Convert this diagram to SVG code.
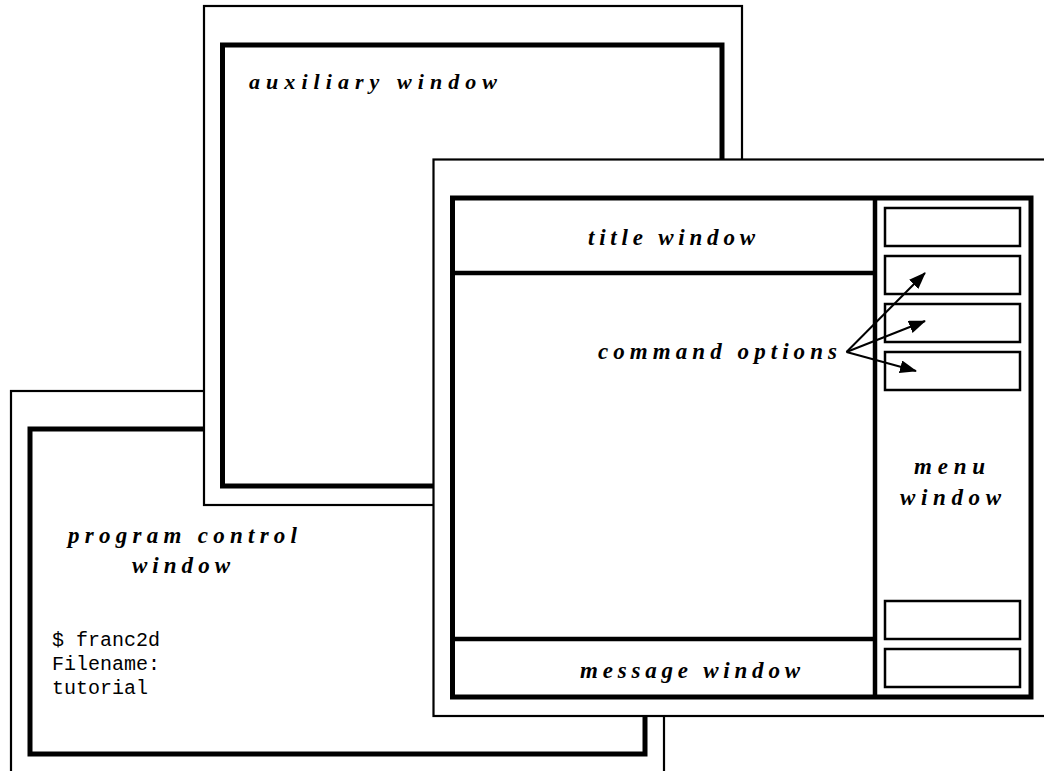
<svg xmlns="http://www.w3.org/2000/svg" width="1044" height="771" viewBox="0 0 1044 771">
<style>
.outer{fill:#fff;stroke:#000;stroke-width:2.2}
.inner{fill:none;stroke:#000;stroke-width:5}
.div{stroke:#000;stroke-width:4.5;fill:none}
.btn{fill:#fff;stroke:#000;stroke-width:2.5}
.lbl{font-family:"Liberation Serif",serif;font-style:italic;font-weight:bold;font-size:23px;fill:#000}
.mono{font-family:"Liberation Mono",monospace;font-size:20px;fill:#000}
.arr{stroke:#000;stroke-width:2;fill:none;marker-end:url(#ah)}
</style>
<defs>
<marker id="ah" markerUnits="userSpaceOnUse" markerWidth="17" markerHeight="13" refX="16" refY="6.5" orient="auto">
<path d="M0,0 L17,6.5 L0,13 Z" fill="#000"/>
</marker>
</defs>
<rect width="1044" height="771" fill="#fff"/>
<g id="program-control-window">
<rect class="outer" x="11" y="391" width="653" height="420"/>
<rect class="inner" x="30" y="429" width="615" height="325"/>
<text class="lbl" x="68" y="543" textLength="229" lengthAdjust="spacing">program control</text>
<text class="lbl" x="132" y="573" textLength="98" lengthAdjust="spacing">window</text>
<text class="mono" x="52" y="646">$ franc2d</text>
<text class="mono" x="52" y="670">Filename:</text>
<text class="mono" x="52" y="694">tutorial</text>
</g>
<g id="auxiliary-window">
<rect class="outer" x="204" y="6" width="538" height="499"/>
<rect class="inner" x="222.5" y="45" width="499.5" height="441"/>
<text class="lbl" x="249" y="89" textLength="248" lengthAdjust="spacing" style="font-size:22px">auxiliary window</text>
</g>
<g id="main-window">
<rect class="outer" x="433.5" y="159.5" width="640" height="556.5"/>
<rect class="inner" x="452.5" y="198" width="578.5" height="499"/>
<line class="div" x1="875" y1="198" x2="875" y2="697"/>
</g>
<g id="title-window">
<line class="div" x1="452.5" y1="273" x2="875" y2="273"/>
<text class="lbl" x="588" y="245" textLength="167" lengthAdjust="spacing">title window</text>
</g>
<g id="message-window">
<line class="div" x1="452.5" y1="639" x2="875" y2="639"/>
<text class="lbl" x="580" y="678" textLength="220" lengthAdjust="spacing">message window</text>
</g>
<g id="menu-window">
<rect class="btn" x="885" y="208" width="135" height="38"/>
<rect class="btn" x="885" y="256" width="135" height="38"/>
<rect class="btn" x="885" y="304" width="135" height="38"/>
<rect class="btn" x="885" y="352" width="135" height="38"/>
<rect class="btn" x="885" y="601" width="135" height="38"/>
<rect class="btn" x="885" y="649" width="135" height="38"/>
<text class="lbl" x="914" y="474" textLength="71" lengthAdjust="spacing">menu</text>
<text class="lbl" x="900" y="505" textLength="101" lengthAdjust="spacing">window</text>
</g>
<g id="command-options">
<text class="lbl" x="598" y="359" textLength="239" lengthAdjust="spacing">command options</text>
</g>
<g id="connectors">
<line class="arr" x1="846.5" y1="352" x2="925" y2="273"/>
<line class="arr" x1="846.5" y1="352" x2="925" y2="321"/>
<line class="arr" x1="846.5" y1="352" x2="916" y2="371"/>
</g>
</svg>
